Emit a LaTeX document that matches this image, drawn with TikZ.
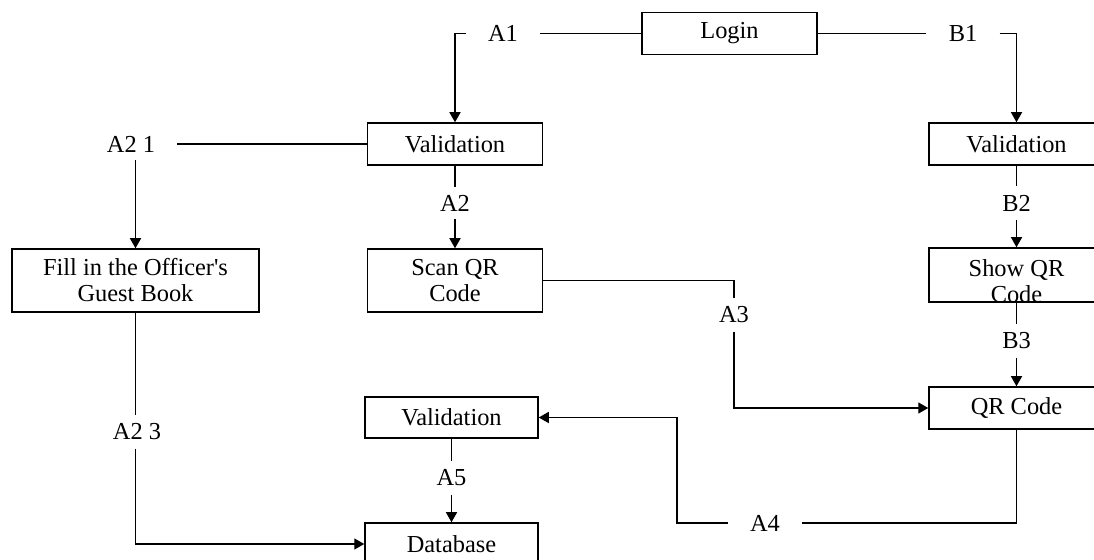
\documentclass[tikz,border=0pt]{standalone}
\usepackage{fontspec}
\setmainfont{Liberation Serif}
\usetikzlibrary{arrows.meta}

\begin{document}
\begin{tikzpicture}[x=0.5pt, y=-0.5pt,
    every node/.style={font=\fontsize{12.2}{13}\selectfont},
    blok/.style={draw, line width=0.75pt, minimum width=87.5pt, minimum height=21pt, inner sep=0pt},
    tag/.style={inner xsep=11pt, inner ysep=4pt},
    wire/.style={line width=0.7pt},
    arr/.style={wire, -{Triangle[length=5pt,width=5.5pt]}}]
  \useasboundingbox (0,0) rectangle (1094,560);
  \clip (0,0) rectangle (1094,560);
  \node[blok] (login) at (729.5,33.5) {Login};
  \node[blok] (valA) at (455,144) {Validation};
  \node[blok] (valB) at (1016.5,144) {Validation};
  \node[blok, minimum width=123.5pt, minimum height=31.5pt, align=center] (fill) at (135.5,280.5) {Fill in the Officer\textquotesingle s\\Guest Book};
  \node[blok, minimum height=31.5pt, align=center] (scan) at (455,280.5) {Scan QR\\Code};
  \node[blok, minimum height=27pt] (show) at (1016.5,275) {\raisebox{-14pt}[0pt][0pt]{\begin{tabular}[b]{@{}c@{}}Show QR\\Code\end{tabular}}};
  \node[blok] (qr) at (1016.5,408) {QR Code};
  \node[blok, minimum width=86.5pt, minimum height=20.5pt] (valC) at (451.5,417.5) {Validation};
  \node[blok, minimum width=86.5pt] (db) at (451.5,544) {Database};
  \node[tag] (a1) at (503,33.5) {A1};
  \node[tag] (b1) at (963,33.5) {B1};
  \node[tag] (a21) at (131,144) {A2 1};
  \node[tag] (a2) at (455,203) {A2};
  \node[tag] (b2) at (1016.5,203) {B2};
  \node[tag] (a3) at (734,315) {A3};
  \node[tag] (b3) at (1016.5,341) {B3};
  \node[tag] (a23) at (137,432) {A2 3};
  \node[tag] (a5) at (451.5,478) {A5};
  \node[tag] (a4) at (765,523) {A4};
  \coordinate (a4bend) at (677,417.5);
  \draw[wire] (login) -- (a1);
  \draw[arr] (a1.west) -| (valA.north);
  \draw[wire] (login) -- (b1);
  \draw[arr] (b1.east) -| (valB.north);
  \draw[wire] (valA) -- (a21);
  \draw[arr] (a21.south -| fill.north) -- (fill.north);
  \draw[wire] (fill) -- (fill |- a23.north);
  \draw[arr] (fill |- a23.south) |- (db.west);
  \draw[wire] (valA) -- (a2);
  \draw[arr] (a2) -- (scan);
  \draw[wire] (valB) -- (b2);
  \draw[arr] (b2) -- (show);
  \draw[wire] (show) -- (b3);
  \draw[arr] (b3) -- (qr);
  \draw[wire] (scan.east) -| (a3.north);
  \draw[arr] (a3.south) |- (qr.west);
  \draw[wire] (qr.south) |- (a4.east);
  \draw[arr] (a4.west) -| (a4bend) -- (valC.east);
  \draw[wire] (valC) -- (a5);
  \draw[arr] (a5) -- (db);
\end{tikzpicture}
\end{document}
